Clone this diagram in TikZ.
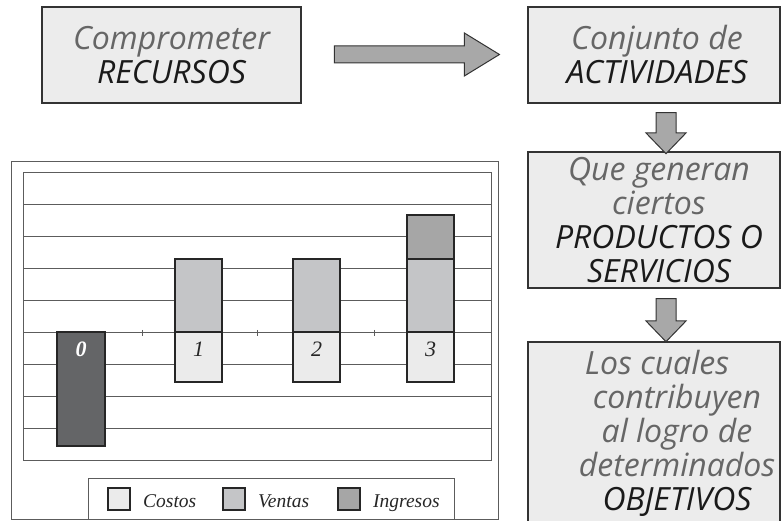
\documentclass[tikz,border=0pt]{standalone}
\usepackage{fontspec}
\setmainfont{Liberation Serif}
\newfontfamily\boxsans{Open Sans}
\usetikzlibrary{shapes.arrows,positioning}

\definecolor{boxfill}{HTML}{ECECEC}
\definecolor{lowtext}{HTML}{666666}
\definecolor{captext}{HTML}{1A1A1A}
\definecolor{arrowfill}{HTML}{A8A8A8}
\definecolor{costos}{HTML}{EBEBEB}
\definecolor{ventas}{HTML}{C4C5C7}
\definecolor{ingresos}{HTML}{A6A6A6}
\definecolor{inversion}{HTML}{646567}
\definecolor{gridgray}{HTML}{5C5C5C}

\tikzset{
  stagebox/.style={draw=black!80, line width=1.2pt, fill=boxfill, inner sep=0pt,
    align=center, text=captext, font=\boxsans\itshape\fontsize{32}{34}\selectfont},
  flowarrow/.style={single arrow, draw=black!80, line width=1pt, fill=arrowfill,
    inner xsep=0pt, single arrow head indent=0pt},
  chartframe/.style={draw=gridgray, line width=0.9pt},
  gridline/.style={draw=gridgray, line width=0.9pt},
  bar/.style={draw=black!85, line width=1.2pt},
  barnum/.style={font=\itshape\fontsize{22}{22}\selectfont, text=black!85},
  legendtext/.style={font=\itshape\fontsize{19.5}{19.5}\selectfont, text=black!85, inner sep=0pt}
}

\begin{document}
\begin{tikzpicture}[x=1pt,y=-1pt]
\useasboundingbox (0,0) rectangle (782,521);
% Stage boxes
  \node[stagebox, minimum width=259pt, minimum height=96pt] (recursos) at (171.5,55)
    {\textcolor{lowtext}{Comprometer}\\RECURSOS};
  \node[stagebox, minimum width=252pt, minimum height=96pt] (actividades) at (654,55)
    {\hspace*{6pt}\textcolor{lowtext}{Conjunto de}\\\hspace*{6pt}ACTIVIDADES};
  \node[stagebox, minimum width=252pt, minimum height=136pt] (productos) at (654,220)
    {\hspace*{10pt}\textcolor{lowtext}{Que generan}\\
     \hspace*{10pt}\textcolor{lowtext}{ciertos}\\
     \hspace*{10pt}PRODUCTOS O\\
     \hspace*{10pt}SERVICIOS};
  \node[stagebox, minimum width=252pt, minimum height=182pt] (objetivos) at (654,433)
    {\hspace*{6pt}\textcolor{lowtext}{Los cuales}\\
     \hspace*{46pt}\textcolor{lowtext}{contribuyen}\\
     \hspace*{46pt}\textcolor{lowtext}{al logro de}\\
     \hspace*{46pt}\textcolor{lowtext}{determinados}\\
     \hspace*{46pt}OBJETIVOS};
% Block arrows between the stages
  \node[flowarrow, minimum height=165pt, inner ysep=8pt,
    single arrow head extend=13pt, single arrow tip angle=63] (paso1) at (410,54.5) {};
  \node[flowarrow, rotate=-90, minimum height=41pt, inner ysep=9.5pt,
    single arrow head extend=10pt, single arrow tip angle=88] (paso2) at (666,128) {};
  \node[flowarrow, rotate=-90, minimum height=43pt, inner ysep=9.5pt,
    single arrow head extend=10pt, single arrow tip angle=88] (paso3) at (666,315) {};

% Chart outline
  \draw[chartframe] (11,161) rectangle (498,519);
% Plot area and gridlines
  \draw[gridline] (23,172) rectangle (491,460);
  \foreach \gy in {204,236,...,428}
    \draw[gridline] (23,\gy) -- (491,\gy);
% Ticks on the zero line
  \foreach \tx in {142,257,374}
    \draw[gridline] (\tx,330) -- (\tx,336);
% Period 0 (investment)
  \draw[bar, fill=inversion] (57,332) rectangle (105,446);
  \node[barnum, text=white, font=\bfseries\itshape\fontsize{22}{22}\selectfont] (n0) at (81,349) {0};
% Periods 1 to 3
  \foreach \bx/\bn in {175/1,293/2,407/3} {
    \draw[bar, fill=ventas] (\bx,259) rectangle +(47,73);
    \draw[bar, fill=costos] (\bx,332) rectangle +(47,50);
    \node[barnum] (n\bn) at (\bx+23.5,349) {\bn};
  }
  \draw[bar, fill=ingresos] (407,215) rectangle (454,259);
% Legend
  \draw[chartframe] (88,478) rectangle (454,519);
  \foreach \lx/\lc/\lt in {108/costos/Costos,223/ventas/Ventas,338/ingresos/Ingresos} {
    \draw[bar, fill=\lc] (\lx,488) rectangle +(22,22);
    \node[legendtext, anchor=base west] (l\lc) at (\lx+35,507) {\lt};
  }
\end{tikzpicture}
\end{document}
